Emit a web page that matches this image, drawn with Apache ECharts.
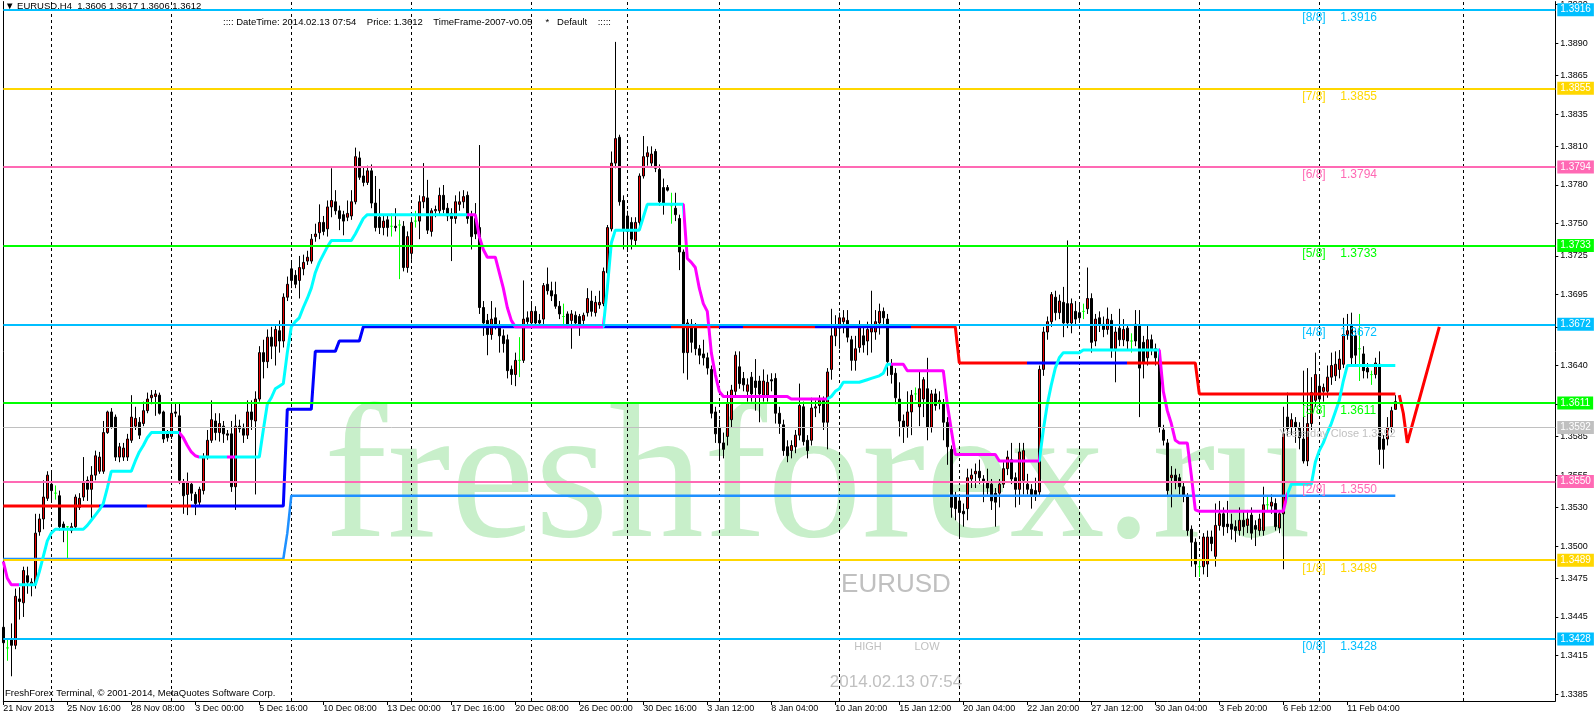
<!DOCTYPE html>
<html><head><meta charset="utf-8">
<script src="https://cdn.jsdelivr.net/npm/echarts@6/dist/echarts.min.js"></script>
<style>html,body{margin:0;padding:0;background:#fff;}#c{width:1596px;height:720px;}</style>
</head><body><div id="c"></div>
<script>
// ---------- DATA ----------
const dateLabels = ['21 Nov 2013','25 Nov 16:00','28 Nov 08:00','3 Dec 00:00','5 Dec 16:00','10 Dec 08:00','13 Dec 00:00','17 Dec 16:00','20 Dec 08:00','26 Dec 00:00','30 Dec 16:00','3 Jan 12:00','8 Jan 04:00','10 Jan 20:00','15 Jan 12:00','20 Jan 04:00','22 Jan 20:00','27 Jan 12:00','30 Jan 04:00','3 Feb 20:00','6 Feb 12:00','11 Feb 04:00'];
const priceTicks = [1.3920,1.3890,1.3865,1.3835,1.3810,1.3780,1.3750,1.3725,1.3695,1.3670,1.3640,1.3610,1.3585,1.3555,1.3530,1.3500,1.3475,1.3445,1.3415,1.3385];
const murreyLevels = [1.3916,1.3855,1.3794,1.3733,1.3672,1.3611,1.3550,1.3489,1.3428];
const murreyNames = ['[8/8]','[7/8]','[6/8]','[5/8]','[4/8]','[3/8]','[2/8]','[1/8]','[0/8]'];
const yesterdayClose = 1.3592;
const weekGridBars = [12,42,72,102,132,156,179,209,239,269,299,329,365];

const opens = [
1.3437,1.3421,1.3428,1.3423,1.3459,1.3456,1.3477,1.3470,1.3470,1.3511,
1.3521,1.3537,1.3548,1.3541,1.3539,1.3517,1.3515,1.3512,1.3515,1.3530,
1.3538,1.3551,1.3544,1.3555,1.3558,1.3558,1.3588,1.3604,1.3600,1.3569,
1.3569,1.3569,1.3582,1.3593,1.3596,1.3595,1.3605,1.3615,1.3616,1.3617,
1.3604,1.3587,1.3585,1.3604,1.3601,1.3549,1.3540,1.3548,1.3540,1.3534,
1.3543,1.3569,1.3582,1.3597,1.3588,1.3593,1.3587,1.3587,1.3546,1.3593,
1.3591,1.3586,1.3604,1.3597,1.3614,1.3650,1.3643,1.3662,1.3655,1.3667,
1.3659,1.3693,1.3715,1.3710,1.3706,1.3715,1.3721,1.3721,1.3740,1.3743,
1.3751,1.3746,1.3763,1.3767,1.3760,1.3757,1.3755,1.3756,1.3767,1.3801,
1.3787,1.3782,1.3791,1.3766,1.3755,1.3747,1.3753,1.3748,1.3748,1.3749,
1.3748,1.3716,1.3727,1.3752,1.3752,1.3767,1.3770,1.3744,1.3760,1.3760,
1.3772,1.3762,1.3758,1.3754,1.3765,1.3767,1.3772,1.3756,1.3754,1.3747,
1.3685,1.3675,1.3664,1.3677,1.3670,1.3663,1.3660,1.3637,1.3633,1.3644,
1.3644,1.3677,1.3673,1.3682,1.3675,1.3676,1.3703,1.3698,1.3695,1.3686,
1.3678,1.3680,1.3675,1.3679,1.3678,1.3675,1.3681,1.3690,1.3681,1.3687,
1.3688,1.3712,1.3746,1.3797,1.3817,1.3768,1.3756,1.3751,1.3737,1.3751,
1.3787,1.3802,1.3797,1.3806,1.3792,1.3778,1.3778,1.3764,1.3762,1.3754,
1.3728,1.3650,1.3672,1.3670,1.3653,1.3649,1.3646,1.3637,1.3604,1.3592,
1.3580,1.3585,1.3598,1.3620,1.3639,1.3630,1.3620,1.3631,1.3628,1.3628,
1.3617,1.3617,1.3629,1.3630,1.3603,1.3594,1.3577,1.3574,1.3577,1.3586,
1.3608,1.3582,1.3582,1.3607,1.3609,1.3613,1.3596,1.3637,1.3663,1.3669,
1.3674,1.3675,1.3660,1.3644,1.3654,1.3663,1.3659,1.3666,1.3666,1.3673,
1.3682,1.3676,1.3641,1.3634,1.3614,1.3597,1.3593,1.3604,1.3618,1.3608,
1.3614,1.3622,1.3592,1.3618,1.3611,1.3610,1.3596,1.3575,1.3538,1.3535,
1.3527,1.3529,1.3552,1.3556,1.3558,1.3552,1.3550,1.3548,1.3541,1.3541,
1.3548,1.3560,1.3567,1.3553,1.3544,1.3551,1.3548,1.3544,1.3543,1.3542,
1.3637,1.3666,1.3674,1.3693,1.3681,1.3689,1.3688,1.3673,1.3682,1.3681,
1.3682,1.3684,1.3692,1.3659,1.3677,1.3672,1.3668,1.3675,1.3653,1.3669,
1.3660,1.3669,1.3659,1.3672,1.3671,1.3658,1.3646,1.3660,1.3653,1.3650,
1.3590,1.3580,1.3553,1.3555,1.3553,1.3546,1.3538,1.3513,1.3503,1.3484,
1.3484,1.3486,1.3507,1.3492,1.3516,1.3525,1.3517,1.3517,1.3515,1.3512,
1.3520,1.3516,1.3524,1.3516,1.3512,1.3512,1.3532,1.3531,1.3533,1.3514,
1.3525,1.3600,1.3592,1.3596,1.3592,1.3583,1.3566,1.3595,1.3613,1.3624,
1.3620,1.3620,1.3631,1.3632,1.3637,1.3641,1.3664,1.3671,1.3663,1.3653,
1.3649,1.3638,1.3633,1.3633,1.3641,1.3583,1.3583,1.3592,1.3606];
const highs = [
1.3440,1.3428,1.3440,1.3467,1.3468,1.3484,1.3484,1.3475,1.3525,1.3525,
1.3551,1.3558,1.3558,1.3547,1.3543,1.3519,1.3515,1.3518,1.3540,1.3541,
1.3569,1.3554,1.3562,1.3574,1.3573,1.3597,1.3605,1.3607,1.3602,1.3580,
1.3580,1.3587,1.3617,1.3608,1.3600,1.3612,1.3619,1.3621,1.3621,1.3619,
1.3605,1.3590,1.3611,1.3611,1.3611,1.3552,1.3557,1.3550,1.3542,1.3546,
1.3572,1.3590,1.3613,1.3603,1.3603,1.3597,1.3590,1.3597,1.3602,1.3598,
1.3595,1.3613,1.3613,1.3620,1.3655,1.3660,1.3668,1.3670,1.3672,1.3675,
1.3696,1.3709,1.3721,1.3714,1.3725,1.3726,1.3729,1.3742,1.3750,1.3765,
1.3756,1.3768,1.3793,1.3776,1.3764,1.3760,1.3768,1.3776,1.3809,1.3806,
1.3794,1.3795,1.3796,1.3787,1.3777,1.3757,1.3757,1.3758,1.3762,1.3753,
1.3752,1.3744,1.3755,1.3760,1.3772,1.3797,1.3784,1.3762,1.3764,1.3778,
1.3780,1.3766,1.3762,1.3772,1.3775,1.3776,1.3775,1.3760,1.3766,1.3811,
1.3690,1.3680,1.3690,1.3685,1.3675,1.3668,1.3664,1.3640,1.3650,1.3662,
1.3706,1.3682,1.3690,1.3686,1.3680,1.3704,1.3716,1.3705,1.3705,1.3690,
1.3688,1.3682,1.3683,1.3682,1.3680,1.3681,1.3700,1.3698,1.3694,1.3698,
1.3716,1.3749,1.3806,1.3891,1.3819,1.3772,1.3760,1.3755,1.3755,1.3789,
1.3818,1.3810,1.3810,1.3808,1.3796,1.3785,1.3780,1.3774,1.3774,1.3757,
1.3730,1.3676,1.3676,1.3673,1.3656,1.3660,1.3650,1.3640,1.3608,1.3598,
1.3588,1.3620,1.3625,1.3651,1.3651,1.3635,1.3630,1.3635,1.3645,1.3632,
1.3637,1.3633,1.3634,1.3634,1.3608,1.3598,1.3582,1.3582,1.3590,1.3626,
1.3612,1.3586,1.3615,1.3613,1.3617,1.3616,1.3638,1.3684,1.3679,1.3681,
1.3683,1.3683,1.3663,1.3663,1.3675,1.3670,1.3674,1.3698,1.3683,1.3688,
1.3685,1.3680,1.3645,1.3638,1.3627,1.3602,1.3620,1.3621,1.3623,1.3636,
1.3631,1.3646,1.3621,1.3622,1.3620,1.3614,1.3600,1.3578,1.3542,1.3540,
1.3533,1.3560,1.3560,1.3564,1.3567,1.3555,1.3560,1.3552,1.3545,1.3552,
1.3565,1.3574,1.3580,1.3557,1.3580,1.3580,1.3556,1.3548,1.3553,1.3640,
1.3670,1.3678,1.3697,1.3698,1.3695,1.3701,1.3737,1.3692,1.3690,1.3689,
1.3688,1.3716,1.3696,1.3680,1.3682,1.3678,1.3685,1.3680,1.3670,1.3684,
1.3676,1.3672,1.3665,1.3683,1.3683,1.3663,1.3672,1.3664,1.3657,1.3653,
1.3594,1.3583,1.3562,1.3560,1.3556,1.3550,1.3541,1.3516,1.3506,1.3490,
1.3510,1.3512,1.3512,1.3533,1.3535,1.3530,1.3535,1.3525,1.3520,1.3530,
1.3527,1.3528,1.3530,1.3520,1.3525,1.3546,1.3538,1.3540,1.3537,1.3528,
1.3608,1.3619,1.3603,1.3600,1.3596,1.3636,1.3638,1.3631,1.3650,1.3632,
1.3626,1.3640,1.3650,1.3651,1.3652,1.3677,1.3680,1.3681,1.3668,1.3680,
1.3655,1.3642,1.3636,1.3646,1.3651,1.3586,1.3600,1.3608,1.3617];
const lows = [
1.3418,1.3411,1.3399,1.3420,1.3443,1.3445,1.3463,1.3461,1.3467,1.3508,
1.3513,1.3535,1.3535,1.3536,1.3512,1.3503,1.3489,1.3510,1.3513,1.3528,
1.3535,1.3535,1.3520,1.3551,1.3556,1.3556,1.3587,1.3591,1.3566,1.3565,
1.3566,1.3566,1.3580,1.3590,1.3583,1.3593,1.3603,1.3610,1.3601,1.3602,
1.3580,1.3581,1.3583,1.3600,1.3548,1.3525,1.3524,1.3535,1.3524,1.3531,
1.3540,1.3567,1.3580,1.3582,1.3581,1.3580,1.3582,1.3542,1.3528,1.3588,
1.3580,1.3583,1.3590,1.3540,1.3612,1.3630,1.3638,1.3645,1.3640,1.3650,
1.3654,1.3690,1.3700,1.3700,1.3692,1.3710,1.3718,1.3719,1.3736,1.3738,
1.3741,1.3740,1.3755,1.3757,1.3745,1.3741,1.3752,1.3753,1.3765,1.3784,
1.3779,1.3780,1.3762,1.3744,1.3742,1.3741,1.3740,1.3740,1.3744,1.3707,
1.3713,1.3712,1.3722,1.3747,1.3738,1.3762,1.3742,1.3740,1.3755,1.3757,
1.3758,1.3752,1.3721,1.3750,1.3760,1.3762,1.3750,1.3730,1.3738,1.3680,
1.3663,1.3648,1.3660,1.3668,1.3650,1.3650,1.3630,1.3625,1.3624,1.3631,
1.3642,1.3670,1.3670,1.3670,1.3670,1.3672,1.3695,1.3690,1.3684,1.3676,
1.3671,1.3669,1.3653,1.3670,1.3663,1.3672,1.3678,1.3678,1.3678,1.3684,
1.3686,1.3710,1.3744,1.3793,1.3764,1.3730,1.3728,1.3730,1.3733,1.3748,
1.3785,1.3795,1.3794,1.3790,1.3764,1.3757,1.3775,1.3750,1.3752,1.3714,
1.3634,1.3629,1.3650,1.3648,1.3641,1.3640,1.3633,1.3599,1.3580,1.3568,
1.3568,1.3578,1.3592,1.3616,1.3622,1.3620,1.3612,1.3612,1.3605,1.3596,
1.3612,1.3612,1.3620,1.3595,1.3587,1.3570,1.3565,1.3568,1.3572,1.3582,
1.3578,1.3568,1.3578,1.3600,1.3603,1.3590,1.3575,1.3629,1.3655,1.3653,
1.3665,1.3658,1.3636,1.3636,1.3650,1.3650,1.3648,1.3650,1.3660,1.3664,
1.3670,1.3632,1.3626,1.3610,1.3585,1.3580,1.3584,1.3586,1.3613,1.3593,
1.3600,1.3582,1.3588,1.3605,1.3606,1.3582,1.3563,1.3522,1.3520,1.3506,
1.3515,1.3520,1.3545,1.3545,1.3548,1.3534,1.3540,1.3528,1.3515,1.3530,
1.3545,1.3555,1.3548,1.3530,1.3532,1.3540,1.3540,1.3529,1.3535,1.3538,
1.3632,1.3660,1.3670,1.3675,1.3676,1.3662,1.3669,1.3665,1.3672,1.3673,
1.3676,1.3680,1.3650,1.3655,1.3666,1.3662,1.3664,1.3646,1.3627,1.3655,
1.3655,1.3652,1.3650,1.3655,1.3600,1.3630,1.3640,1.3648,1.3640,1.3588,
1.3578,1.3538,1.3530,1.3544,1.3540,1.3534,1.3508,1.3484,1.3476,1.3476,
1.3478,1.3476,1.3496,1.3484,1.3512,1.3508,1.3510,1.3505,1.3503,1.3508,
1.3508,1.3510,1.3505,1.3500,1.3508,1.3508,1.3528,1.3525,1.3512,1.3510,
1.3482,1.3585,1.3586,1.3580,1.3575,1.3564,1.3562,1.3590,1.3608,1.3610,
1.3612,1.3615,1.3625,1.3628,1.3630,1.3638,1.3660,1.3640,1.3640,1.3628,
1.3630,1.3630,1.3625,1.3630,1.3563,1.3560,1.3578,1.3588,1.3606];
const closes = [
1.3425,1.3421,1.3423,1.3461,1.3457,1.3481,1.3472,1.3472,1.3510,1.3521,
1.3538,1.3555,1.3543,1.3541,1.3515,1.3514,1.3515,1.3515,1.3538,1.3537,
1.3549,1.3544,1.3555,1.3570,1.3569,1.3588,1.3604,1.3592,1.3569,1.3577,
1.3576,1.3583,1.3600,1.3599,1.3586,1.3605,1.3614,1.3617,1.3618,1.3603,
1.3583,1.3584,1.3603,1.3603,1.3551,1.3539,1.3549,1.3541,1.3533,1.3544,
1.3569,1.3582,1.3598,1.3588,1.3595,1.3587,1.3586,1.3546,1.3593,1.3591,
1.3586,1.3604,1.3598,1.3614,1.3650,1.3643,1.3662,1.3655,1.3668,1.3659,
1.3693,1.3703,1.3706,1.3703,1.3716,1.3720,1.3724,1.3738,1.3742,1.3751,
1.3744,1.3763,1.3768,1.3760,1.3754,1.3752,1.3758,1.3767,1.3802,1.3786,
1.3782,1.3791,1.3766,1.3747,1.3747,1.3752,1.3747,1.3748,1.3747,1.3749,
1.3716,1.3740,1.3751,1.3752,1.3767,1.3771,1.3745,1.3760,1.3761,1.3772,
1.3761,1.3756,1.3754,1.3767,1.3767,1.3771,1.3754,1.3740,1.3742,1.3685,
1.3673,1.3664,1.3676,1.3671,1.3663,1.3657,1.3636,1.3633,1.3644,1.3644,
1.3676,1.3674,1.3682,1.3673,1.3673,1.3702,1.3698,1.3694,1.3686,1.3680,
1.3678,1.3672,1.3680,1.3673,1.3671,1.3679,1.3692,1.3682,1.3689,1.3689,
1.3713,1.3747,1.3797,1.3816,1.3767,1.3746,1.3744,1.3738,1.3751,1.3787,
1.3802,1.3805,1.3804,1.3793,1.3767,1.3765,1.3776,1.3764,1.3757,1.3728,
1.3650,1.3673,1.3658,1.3653,1.3648,1.3646,1.3638,1.3603,1.3587,1.3580,
1.3575,1.3611,1.3621,1.3648,1.3626,1.3625,1.3625,1.3618,1.3623,1.3618,
1.3628,1.3627,1.3628,1.3603,1.3595,1.3574,1.3570,1.3578,1.3586,1.3609,
1.3581,1.3574,1.3607,1.3608,1.3613,1.3596,1.3635,1.3663,1.3670,1.3677,
1.3677,1.3662,1.3644,1.3653,1.3671,1.3656,1.3668,1.3669,1.3674,1.3682,
1.3677,1.3643,1.3633,1.3615,1.3597,1.3592,1.3604,1.3617,1.3618,1.3622,
1.3629,1.3592,1.3618,1.3609,1.3613,1.3596,1.3577,1.3530,1.3529,1.3526,
1.3525,1.3553,1.3555,1.3558,1.3553,1.3550,1.3545,1.3535,1.3534,1.3548,
1.3560,1.3569,1.3552,1.3544,1.3573,1.3574,1.3544,1.3540,1.3540,1.3637,
1.3666,1.3674,1.3695,1.3681,1.3690,1.3673,1.3673,1.3688,1.3676,1.3677,
1.3682,1.3692,1.3658,1.3676,1.3672,1.3668,1.3676,1.3653,1.3666,1.3660,
1.3668,1.3659,1.3659,1.3659,1.3638,1.3642,1.3660,1.3653,1.3646,1.3592,
1.3582,1.3543,1.3555,1.3550,1.3546,1.3539,1.3512,1.3503,1.3486,1.3484,
1.3507,1.3507,1.3502,1.3516,1.3525,1.3515,1.3515,1.3513,1.3512,1.3520,
1.3515,1.3521,1.3510,1.3513,1.3521,1.3532,1.3532,1.3534,1.3515,1.3525,
1.3587,1.3591,1.3598,1.3592,1.3584,1.3566,1.3595,1.3619,1.3633,1.3614,
1.3623,1.3631,1.3640,1.3641,1.3645,1.3664,1.3667,1.3646,1.3648,1.3653,
1.3636,1.3635,1.3633,1.3642,1.3575,1.3575,1.3592,1.3605,1.3612];

// step trailing line (cyan = up state, magenta = down state): [bar, value] held until next entry
const stepLinePts = [[0,1.3488],[1,1.3475],[2,1.3470],[9,1.3480],[10,1.3492],[11,1.3504],[12,1.3510],[13,1.3513],[21,1.3516],[22,1.3520],[23,1.3524],[24,1.3528],[25,1.3533],[26,1.3545],[27,1.3558],[33,1.3566],[34,1.3573],[35,1.3578],[36,1.3584],[37,1.3588],[45,1.3584],[46,1.3578],[47,1.3573],[48,1.3570],[49,1.3569],[65,1.3590],[66,1.3610],[67,1.3615],[68,1.3622],[69,1.3624],[70,1.3626],[71,1.3650],[72,1.3670],[73,1.3674],[74,1.3677],[75,1.3685],[76,1.3692],[77,1.3700],[78,1.3712],[79,1.3720],[80,1.3726],[81,1.3732],[82,1.3737],[88,1.3742],[89,1.3748],[90,1.3754],[91,1.3757],[119,1.3740],[120,1.3730],[121,1.3724],[124,1.3712],[125,1.3700],[126,1.3685],[127,1.3675],[128,1.3670],[151,1.3700],[152,1.3735],[153,1.3745],[160,1.3755],[161,1.3765],[171,1.3723],[172,1.3720],[173,1.3716],[174,1.3700],[175,1.3688],[176,1.3682],[177,1.3650],[178,1.3633],[179,1.3620],[180,1.3616],[197,1.3614],[207,1.3616],[208,1.3620],[209,1.3622],[210,1.3627],[215,1.3628],[216,1.3629],[217,1.3630],[218,1.3631],[219,1.3632],[220,1.3634],[221,1.3641],[226,1.3636],[236,1.3610],[237,1.3590],[238,1.3571],[249,1.3566],[260,1.3590],[261,1.3610],[262,1.3625],[263,1.3638],[264,1.3646],[265,1.3650],[270,1.3652],[290,1.3620],[291,1.3605],[292,1.3595],[293,1.3582],[294,1.3580],[297,1.3555],[298,1.3528],[299,1.3527],[321,1.3540],[322,1.3548],[328,1.3565],[329,1.3574],[330,1.3580],[331,1.3588],[332,1.3595],[333,1.3604],[334,1.3613],[335,1.3628],[336,1.3640]];
const stepTrend = [[0,-1],[4,1],[44,-1],[49,1],[56,-1],[58,1],[116,-1],[150,1],[170,-1],[206,1],[222,-1],[259,1],[289,-1],[321,1]];
// blue / red level line
const levelLinePts = [[0,1.3531],[71,1.3606],[78,1.3651],[84,1.3659],[90,1.3670],[239,1.3642],[299,1.3618]];
const levelTrend = [[0,-1],[24,1],[36,-1],[47,1],[167,-1],[179,1],[185,-1],[203,1],[227,-1],[256,1],[281,-1]];
// dodger-blue support line
const supportPts = [[0,1.3490],[71,1.3510],[72,1.3539]];
// red projection drawn past the last bar
const forecastPts = [[349,1.3617],[350,1.3603],[351,1.3580],[359,1.3670]];
const LAST_BAR = 348;

// ---------- BUILD ----------
const N = 389;
const Y_MIN = 1.337982, Y_MAX = 1.392227;
const cats = Array.from({length:N},(_,i)=>String(i));
function expandHold(pts){const out=[];let k=0;for(let i=0;i<=LAST_BAR;i++){while(k+1<pts.length&&pts[k+1][0]<=i)k++;out.push(pts[k][1]);}return out;}
function trendPieces(tr,upC,downC){return tr.map((t,k)=>({gte:k===0?-1000:t[0]-0.5,lt:k+1<tr.length?tr[k+1][0]-0.5:10000,color:t[1]>0?upC:downC}));}
const GREEN='#00ff00';
const candleData = opens.map((o,i)=>{
  const c=closes[i], h=Math.max(highs[i],o,c), l=Math.min(lows[i],o,c);
  const it={value:[o,c,l,h]};
  if(o===c) it.itemStyle={color:GREEN,color0:GREEN,borderColor:GREEN,borderColor0:GREEN,borderColorDoji:GREEN};
  return it;
});
const murreyColors = ['#00bfff','#ffd700','#ff69b4','#00ff00','#00bfff','#00ff00','#ff69b4','#ffd700','#00bfff'];
const FONT='Liberation Sans';

function boxLabel(text,bg){return {show:true,position:'end',formatter:text,color:'#fff',backgroundColor:bg,padding:[2,3,1,3],fontSize:10,fontFamily:FONT,distance:2};}
const hLines = murreyLevels.map((v,k)=>({yAxis:v,lineStyle:{color:murreyColors[k],width:2,type:'solid'},label:boxLabel(v.toFixed(4),murreyColors[k])}));
hLines.push({yAxis:yesterdayClose,lineStyle:{color:'#c0c0c0',width:1,type:'solid'},label:boxLabel(yesterdayClose.toFixed(4),'#c0c0c0')});

const labelEvery = (i)=> i%16===0 && (i/16)<dateLabels.length;

const option = {
  animation:false,
  backgroundColor:'#fff',
  grid:{left:3.3,right:40.7,top:0,bottom:19},
  xAxis:{type:'category',data:cats,boundaryGap:false,
    axisLine:{show:true,lineStyle:{color:'#000',width:1}},
    axisTick:{show:true,interval:labelEvery,length:4,lineStyle:{color:'#000'}},
    axisLabel:{interval:labelEvery,formatter:(v,i)=>dateLabels[i/16]||'',align:'left',margin:3,fontSize:9,fontFamily:FONT,color:'#000'},
    splitLine:{show:false}},
  yAxis:[
    {type:'value',position:'right',min:Y_MIN,max:Y_MAX,
      axisLine:{show:true,lineStyle:{color:'#000',width:1}},
      axisTick:{show:true,customValues:priceTicks,length:3,lineStyle:{color:'#000'}},
      axisLabel:{customValues:priceTicks,formatter:v=>v.toFixed(4),fontSize:9,fontFamily:FONT,color:'#000',margin:5},
      splitLine:{show:false}},
    {type:'value',position:'left',min:Y_MIN,max:Y_MAX,
      axisLine:{show:true,lineStyle:{color:'#000',width:1}},axisTick:{show:false},axisLabel:{show:false},splitLine:{show:false}}
  ],
  visualMap:[
    {type:'piecewise',show:false,dimension:0,seriesIndex:2,pieces:trendPieces(levelTrend,'#0000ff','#ff0000')},
    {type:'piecewise',show:false,dimension:0,seriesIndex:3,pieces:trendPieces(stepTrend,'#00ffff','#ff00ff')}
  ],
  graphic:[
    {type:'text',z:0,x:324,y:486,style:{text:'freshforex.ru',fill:'#c8efca',fontSize:190,fontFamily:'Liberation Serif',align:'left',verticalAlign:'middle'}},
    {type:'text',z:0,x:896,y:585,style:{text:'EURUSD',fill:'#c0c0c0',fontSize:26,fontFamily:FONT,align:'center',verticalAlign:'middle'}},
    {type:'text',z:0,x:868,y:647,style:{text:'HIGH',fill:'#c0c0c0',fontSize:11,fontFamily:FONT,align:'center',verticalAlign:'middle'}},
    {type:'text',z:0,x:927,y:647,style:{text:'LOW',fill:'#c0c0c0',fontSize:11,fontFamily:FONT,align:'center',verticalAlign:'middle'}},
    {type:'text',z:0,x:896,y:682,style:{text:'2014.02.13 07:54',fill:'#c0c0c0',fontSize:17,fontFamily:FONT,align:'center',verticalAlign:'middle'}},
    {type:'text',z:4,x:5,y:6,style:{text:'\u25BC EURUSD,H4  1.3606 1.3617 1.3606 1.3612',fill:'#000',fontSize:9.5,fontFamily:FONT,align:'left',verticalAlign:'middle'}},
    {type:'text',z:4,x:223,y:22,style:{text:':::: DateTime: 2014.02.13 07:54    Price: 1.3612    TimeFrame-2007-v0.05     *   Default    :::::',fill:'#000',fontSize:9.5,fontFamily:FONT,align:'left',verticalAlign:'middle'}},
    {type:'text',z:10,x:5,y:693,style:{text:'FreshForex Terminal, \u00A9 2001-2014, MetaQuotes Software Corp.',fill:'#000',fontSize:9.5,fontFamily:FONT,align:'left',verticalAlign:'middle'}}
  ],
  series:[
    {type:'candlestick',name:'EURUSD',data:candleData,barWidth:3,z:2,silent:true,
      itemStyle:{color:'#e80000',color0:'#000000',borderColor:'#000000',borderColor0:'#000000',borderWidth:1},
      markLine:{z:1,silent:true,precision:6,symbol:['none','none'],label:{show:false},
        lineStyle:{color:'#000',width:1,type:[3,3]},
        data:weekGridBars.map(b=>({xAxis:b}))}},
    {type:'line',name:'support',data:expandHold(supportPts),symbol:'none',z:3,silent:true,
      lineStyle:{color:'#1e90ff',width:2.5},
      markLine:{z:5,silent:true,precision:6,symbol:['none','none'],data:hLines}},
    {type:'line',name:'level',data:expandHold(levelLinePts),symbol:'none',z:3,silent:true,
      lineStyle:{width:3}},
    {type:'line',name:'trail',data:expandHold(stepLinePts),symbol:'none',z:3,silent:true,
      lineStyle:{width:3}},
    {type:'line',name:'forecast',data:forecastPts,symbol:'none',z:3,silent:true,
      lineStyle:{color:'#ff0000',width:3}},
    {type:'custom',name:'murreyLabels',silent:true,z:7,
      data:murreyLevels.map(v=>[325,v]),
      renderItem:(params,api)=>{
        const v=api.value(1),k=params.dataIndex,col=murreyColors[k];
        const a=api.coord([325,v]),b=api.coord([334,v]);
        return {type:'group',children:[
          {type:'text',x:a[0]-1,y:a[1]+2,style:{text:murreyNames[k],fill:col,fontSize:12,fontFamily:FONT,align:'left',verticalAlign:'top'}},
          {type:'text',x:b[0]+1,y:b[1]+2,style:{text:v.toFixed(4),fill:col,fontSize:12,fontFamily:FONT,align:'left',verticalAlign:'top'}}
        ]};
      }},
    {type:'custom',name:'yesterdayLabel',silent:true,z:7,
      data:[[319,yesterdayClose]],
      renderItem:(params,api)=>{
        const p=api.coord([319,api.value(1)]);
        return {type:'text',x:p[0],y:p[1]+1,style:{text:'Yesterday Close '+yesterdayClose.toFixed(4),fill:'#c0c0c0',fontSize:11,fontFamily:FONT,align:'left',verticalAlign:'top'}};
      }}
  ]
};
const chart = echarts.init(document.getElementById('c'),null,{renderer:'canvas'});
chart.setOption(option);
</script>
</body></html>
